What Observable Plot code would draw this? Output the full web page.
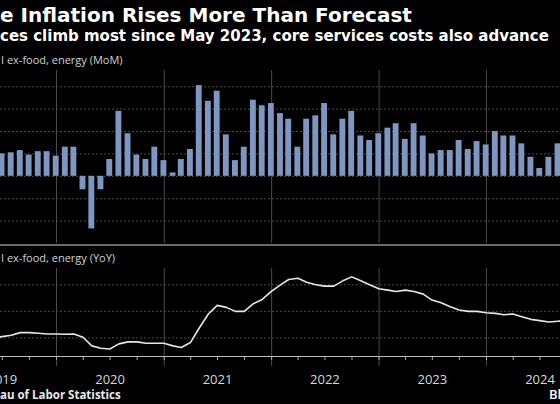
<!DOCTYPE html>
<html><head><meta charset="utf-8">
<script src="https://cdn.jsdelivr.net/npm/d3@7"></script>
<script src="https://cdn.jsdelivr.net/npm/@observablehq/plot@0.6"></script>
<style>
html,body{margin:0;padding:0;background:#000;}
#c{position:relative;width:560px;height:404px;overflow:hidden;background:#000;font-family:"Open Sans",sans-serif;}
.t{position:absolute;white-space:nowrap;line-height:1;}
.d{font-family:"DejaVu Sans",sans-serif;}
.p{position:absolute;left:0;}
</style></head><body><div id="c">
<div class="t d" style="left:0;top:5px;font-size:20px;font-weight:700;color:#fff">e Inflation Rises More Than Forecast</div>
<div class="t d" style="left:0;top:29px;font-size:15px;font-weight:700;color:#fff">ces climb most since May 2023, core services costs also advance</div>
<div class="t" style="left:1px;top:54px;font-size:11px;color:#d0d0d0">I ex-food, energy (MoM)</div>
<div id="p1" class="p" style="top:70px"></div>
<div style="position:absolute;left:0;top:244px;width:560px;height:2px;background:#6a6a6a"></div>
<div class="t" style="left:1px;top:252px;font-size:11px;color:#d0d0d0">I ex-food, energy (YoY)</div>
<div id="p2" class="p" style="top:268px"></div>
<div class="t" style="left:0;top:389px;font-size:11.5px;font-weight:700;color:#e8e8e8">au of Labor Statistics</div>
<div class="t" style="left:549px;top:388px;font-size:13px;font-weight:600;color:#fff">Bl</div>
</div>
<script>
const months = ["2019-05","2019-06","2019-07","2019-08","2019-09","2019-10","2019-11","2019-12",
"2020-01","2020-02","2020-03","2020-04","2020-05","2020-06","2020-07","2020-08","2020-09","2020-10","2020-11","2020-12",
"2021-01","2021-02","2021-03","2021-04","2021-05","2021-06","2021-07","2021-08","2021-09","2021-10","2021-11","2021-12",
"2022-01","2022-02","2022-03","2022-04","2022-05","2022-06","2022-07","2022-08","2022-09","2022-10","2022-11","2022-12",
"2023-01","2023-02","2023-03","2023-04","2023-05","2023-06","2023-07","2023-08","2023-09","2023-10","2023-11","2023-12",
"2024-01","2024-02","2024-03","2024-04","2024-05","2024-06","2024-07","2024-08","2024-09"];
const momValues = [0.10,0.20,0.21,0.23,0.19,0.22,0.22,0.18,
0.26,0.26,-0.12,-0.47,-0.12,0.15,0.58,0.38,0.19,0.15,0.26,0.14,
0.03,0.15,0.24,0.81,0.67,0.76,0.37,0.14,0.26,0.68,0.63,0.65,
0.56,0.51,0.26,0.51,0.54,0.65,0.37,0.51,0.58,0.36,0.32,0.38,
0.43,0.47,0.33,0.47,0.36,0.20,0.23,0.23,0.32,0.24,0.31,0.28,
0.40,0.36,0.36,0.29,0.17,0.07,0.17,0.29,0.31];
const yoyValues = [2.0,2.1,2.2,2.4,2.4,2.35,2.3,2.3,
2.28,2.3,2.05,1.4,1.22,1.17,1.55,1.7,1.7,1.6,1.6,1.6,
1.4,1.28,1.65,2.75,3.8,4.45,4.3,4.0,4.0,4.58,4.9,5.5,
6.0,6.4,6.5,6.2,6.0,5.9,5.9,6.3,6.6,6.3,6.0,5.7,
5.6,5.5,5.6,5.5,5.3,4.85,4.65,4.35,4.1,4.0,4.0,3.9,
3.85,3.75,3.8,3.6,3.4,3.3,3.2,3.25,3.3];
const yearLabels = ["2019","2020","2021","2022","2023","2024"];
const momGrid = [-0.4,-0.2,0,0.2,0.4,0.6,0.8];
const yoyGrid = [2,4,6];

const parse = d3.utcParse("%Y-%m");
const monthEnd = m => d3.utcDay.offset(d3.utcMonth.offset(parse(m), 1), -1);
const mom = months.map((m, i) => ({date: monthEnd(m), value: momValues[i]}));
const yoy = months.map((m, i) => ({date: monthEnd(m), value: yoyValues[i]}));
const xDomain = [new Date(Date.UTC(2019, 5, 24, 17)), new Date(Date.UTC(2024, 8, 8, 12))];
const yearStarts = yearLabels.slice(1).map(y => new Date(Date.UTC(+y, 0, 1)));
const midYears = yearLabels.map(y => new Date(Date.UTC(+y, 6, 1)));
const quarterStarts = d3.utcMonth.every(3).range(new Date(Date.UTC(2019, 3, 1)), new Date(Date.UTC(2024, 11, 1)));
const gridColor = "#4a4a4a";

const p1 = Plot.plot({
  width: 560, height: 173, margin: 0,
  style: {background: "transparent"},
  x: {type: "utc", domain: xDomain, axis: null},
  y: {domain: [-0.6, 0.945], axis: null},
  marks: [
    Plot.gridY({ticks: momGrid, stroke: gridColor, strokeOpacity: 1, strokeDasharray: "2,2"}),
    Plot.gridX({ticks: yearStarts, stroke: gridColor, strokeOpacity: 1}),
    Plot.rectY(mom, {x1: d => d3.utcDay.offset(d.date, -10), x2: d => d3.utcDay.offset(d.date, 10), y: "value", fill: "#7d97c2", clip: true})
  ]
});
document.getElementById("p1").append(p1);

const p2 = Plot.plot({
  width: 560, height: 124, marginTop: 0, marginBottom: 36, marginLeft: 0, marginRight: 0,
  style: {background: "transparent", fontFamily: "Open Sans", fontSize: "13px"},
  x: {type: "utc", domain: xDomain},
  y: {domain: [0.6, 7.23], axis: null},
  marks: [
    Plot.gridY({ticks: yoyGrid, stroke: gridColor, strokeOpacity: 1, strokeDasharray: "2,2"}),
    Plot.gridX({ticks: yearStarts, stroke: gridColor, strokeOpacity: 1}),
    Plot.axisX({ticks: yearStarts, tickSize: 10, tickFormat: () => "", stroke: gridColor, strokeOpacity: 1}),
    Plot.axisX({ticks: quarterStarts, tickSize: 4, tickFormat: () => "", stroke: "#aaa", strokeOpacity: 1}),
    Plot.axisX({ticks: midYears, tickSize: 0, tickPadding: 18, tickFormat: d3.utcFormat("%Y"), fill: "#d8d8d8", fontSize: 13}),
    Plot.ruleY([0.6], {stroke: "#bbb"}),
    Plot.lineY(yoy, {x: "date", y: "value", stroke: "#e6e6e6", strokeWidth: 1.6, clip: true})
  ]
});
document.getElementById("p2").append(p2);
</script>
</body></html>
